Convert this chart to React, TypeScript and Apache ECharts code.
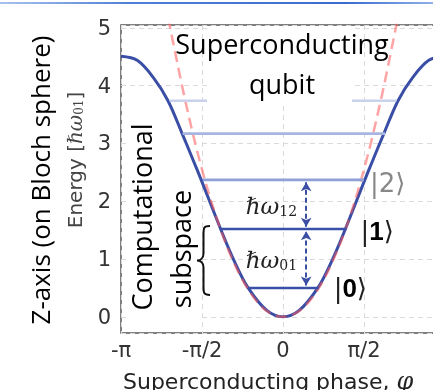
import React, { useEffect, useRef } from 'react';
import * as echarts from 'echarts';

// x positions are in units of π/2
const xTickValues = [-2, -1, 0, 1];
const xTickLabels = ['-π', '-π/2', '0', 'π/2'];
const yTickLabels = ['0', '1', '2', '3', '4', '5'];

// Josephson potential (blue solid)
const potPhase = [-2, -1.8, -1.6, -1.42, -1.245, -1.1, -1.01, -0.77, -0.6, -0.43, -0.2, 0, 0.2, 0.43, 0.6, 0.77, 1.01, 1.1, 1.245, 1.42, 1.6, 1.8, 2];
const potEnergy = [4.51, 4.44, 4.14, 3.74, 3.17, 2.68, 2.37, 1.52, 0.96, 0.5, 0.11, 0, 0.11, 0.5, 0.96, 1.52, 2.37, 2.68, 3.17, 3.74, 4.14, 4.44, 4.51];

// harmonic approximation (red dashed)
const harmPhase = [-1.5, -1.4, -1.2, -1.0, -0.8, -0.6, -0.4, -0.2, 0, 0.2, 0.4, 0.6, 0.8, 1.0, 1.2, 1.4, 1.5];
const harmEnergy = [5.75, 5.05, 3.7, 2.55, 1.63, 0.92, 0.41, 0.1, 0, 0.1, 0.41, 0.92, 1.63, 2.55, 3.7, 5.05, 5.75];

// energy levels
const levelEnergy = [0.5, 1.52, 2.37, 3.17, 3.74];
const levelLeft = [-0.42, -0.76, -0.99, -1.24, -1.4];
const levelRight = [0.44, 0.785, 1.0, 1.26, 1.4];
const levelColor = ['#3a50a8', '#3a50a8', '#8f9fd7', '#a9b5e1', '#c9d1ec'];

// transition arrows
const arrowPhase = 0.286;
const arrowFrom = [0.54, 1.56];
const arrowTo = [1.48, 2.33];

const BLUE = '#3a4ea6';

export default function App() {
  const ref = useRef<HTMLDivElement>(null);
  useEffect(() => {
    const chart = echarts.init(ref.current!, undefined, { renderer: 'svg' });
    const series: any[] = [];
    series.push({
      type: 'line',
      data: potPhase.map((p, i) => [p, potEnergy[i]]),
      smooth: 0.35,
      symbol: 'none',
      lineStyle: { color: BLUE, width: 3 },
      z: 3,
    });
    series.push({
      type: 'line',
      data: harmPhase.map((p, i) => [p, harmEnergy[i]]),
      smooth: 0.35,
      symbol: 'none',
      lineStyle: { color: 'rgba(255,90,90,0.55)', width: 2.5, type: [11, 6] },
      z: 4,
    });
    levelEnergy.forEach((e, i) => {
      series.push({
        type: 'line',
        data: [[levelLeft[i], e], [levelRight[i], e]],
        symbol: 'none',
        lineStyle: { color: levelColor[i], width: 2.6 },
        z: 5,
      });
    });
    series.push({
      type: 'line',
      data: [[arrowPhase, arrowFrom[0]]],
      symbol: 'none',
      lineStyle: { width: 0, opacity: 0 },
      z: 6,
      markLine: {
        silent: true,
        symbol: ['arrow', 'arrow'],
        symbolSize: [8, 9],
        label: { show: false },
        lineStyle: { color: BLUE, width: 2, type: [5, 3] },
        data: arrowFrom.map((f, i) => [
          { coord: [arrowPhase, f] },
          { coord: [arrowPhase, arrowTo[i]] },
        ]),
      },
    });

    const gridLine = { show: true, lineStyle: { color: '#dadada', type: [5, 4], width: 1 } };
    chart.setOption({
      animation: false,
      textStyle: { fontFamily: 'DejaVu Sans' },
      grid: { left: 121, top: 25, right: 0, bottom: 57, show: true, borderColor: '#555', borderWidth: 1.5, backgroundColor: 'transparent' },
      xAxis: {
        type: 'value', min: -2, max: 2, interval: 1,
        axisLine: { show: false }, axisTick: { show: false },
        splitLine: gridLine,
        axisLabel: {
          fontSize: 21, color: '#333', margin: 6, fontFamily: 'DejaVu Sans',
          formatter: (v: number) => {
            const k = xTickValues.indexOf(v);
            return k >= 0 ? xTickLabels[k] : '';
          },
        },
      },
      yAxis: {
        type: 'value', min: -0.28, max: 5.05, splitNumber: 5,
        axisLine: { show: false }, axisTick: { show: false },
        splitLine: gridLine,
        axisLabel: {
          fontSize: 21, color: '#333', margin: 10, fontFamily: 'DejaVu Sans',
          formatter: (v: number) => {
            const r = Math.round(v);
            return Math.abs(v - r) < 1e-6 && r >= 0 && r < yTickLabels.length ? yTickLabels[r] : '';
          },
        },
      },
      series,
    });

    const px = (u: number, e: number) => chart.convertToPixel({ gridIndex: 0 } as any, [u, e]) as number[];
    const p0 = px(0, levelEnergy[0]);
    const p1 = px(0, levelEnergy[1]);
    const yTop = p1[1] - 3;
    const yBot = p0[1] + 7;
    const ym = (yTop + yBot) / 2;
    const xr = 210, xs = 203.5, xt = 197;
    const d = `M ${xr} ${yTop} C ${xs} ${yTop} ${xs} ${yTop + 2} ${xs} ${yTop + 9} L ${xs} ${ym - 7} C ${xs} ${ym - 2} ${xt + 3} ${ym} ${xt} ${ym} C ${xt + 3} ${ym} ${xs} ${ym + 2} ${xs} ${ym + 7} L ${xs} ${yBot - 9} C ${xs} ${yBot - 2} ${xs} ${yBot} ${xr} ${yBot}`;
    echarts.graphic.registerShape('brace', (echarts.graphic as any).extendPath(d, {}));

    const arrowPx = px(arrowPhase, (arrowFrom[1] + arrowTo[1]) / 2);
    const arrowPx2 = px(arrowPhase, (arrowFrom[0] + arrowTo[0]) / 2);
    const stateLabel = (i: number) => px(levelRight[i], levelEnergy[i]);
    const s0 = stateLabel(0), s1 = stateLabel(1), s2 = stateLabel(2);

    const calib = 'Open Sans';
    const graphic: any[] = [
      {
        type: 'rect', z: 30, shape: { x: 0, y: 2, width: 433, height: 2 },
        style: {
          fill: new echarts.graphic.LinearGradient(0, 0, 1, 0, [
            { offset: 0, color: '#a8c2ee' }, { offset: 0.3, color: '#4f7fd6' },
            { offset: 0.8, color: '#3a6cd0' }, { offset: 1, color: '#8fb0e8' },
          ]),
        },
      },
      { type: 'rect', z: 1, shape: { x: 127, y: 108, width: 72, height: 217 }, style: { fill: '#fff' } },
      { type: 'rect', z: 10, shape: { x: 207, y: 27, width: 145, height: 75 }, style: { fill: '#fff' } },
      { type: 'text', z: 20, x: 282, y: 43, style: { text: 'Superconducting', fontFamily: calib, fontSize: 27, fill: '#000', align: 'center', verticalAlign: 'middle' } },
      { type: 'text', z: 20, x: 282, y: 83, style: { text: 'qubit', fontFamily: calib, fontSize: 27, fill: '#000', align: 'center', verticalAlign: 'middle' } },
      { type: 'text', z: 20, x: 141, y: 217, rotation: Math.PI / 2, style: { text: 'Computational', fontFamily: calib, fontSize: 27, fill: '#000', align: 'center', verticalAlign: 'middle' } },
      { type: 'text', z: 20, x: 180, y: 249, rotation: Math.PI / 2, style: { text: 'subspace', fontFamily: calib, fontSize: 27, fill: '#000', align: 'center', verticalAlign: 'middle' } },
      { type: 'brace', z: 20, style: { stroke: '#111', fill: null, lineWidth: 2 } },
      { type: 'text', z: 20, x: 40, y: 180, rotation: Math.PI / 2, style: { text: 'Z-axis (on Bloch sphere)', fontFamily: calib, fontSize: 26, fill: '#000', align: 'center', verticalAlign: 'middle' } },
      {
        type: 'text', z: 20, x: 75, y: 160, rotation: Math.PI / 2,
        style: {
          text: 'Energy [{w|ℏω}{s|01}]', fontFamily: 'DejaVu Sans', fontSize: 20, fill: '#444', align: 'center', verticalAlign: 'middle',
          rich: {
            w: { fontFamily: 'DejaVu Serif', fontStyle: 'italic', fontSize: 20, fill: '#444' },
            s: { fontFamily: 'DejaVu Serif', fontSize: 12, fill: '#444', verticalAlign: 'bottom', lineHeight: 12 },
          },
        },
      },
      {
        type: 'text', z: 20, x: 123, y: 381,
        style: {
          text: 'Superconducting phase, {i|φ}', fontFamily: 'DejaVu Sans', fontSize: 22, fill: '#222', align: 'left', verticalAlign: 'middle',
          rich: { i: { fontFamily: 'DejaVu Serif', fontStyle: 'italic', fontSize: 24, fill: '#222' } },
        },
      },
      {
        type: 'text', z: 20, x: arrowPx[0] - 9, y: arrowPx[1] + 2,
        style: {
          text: 'ℏω{s|12}', fontFamily: 'DejaVu Serif', fontStyle: 'italic', fontSize: 23, fill: '#222', align: 'right', verticalAlign: 'middle',
          rich: { s: { fontFamily: 'DejaVu Serif', fontStyle: 'normal', fontSize: 14, fill: '#222', verticalAlign: 'bottom', lineHeight: 14 } },
        },
      },
      {
        type: 'text', z: 20, x: arrowPx2[0] - 9, y: arrowPx2[1] + 2,
        style: {
          text: 'ℏω{s|01}', fontFamily: 'DejaVu Serif', fontStyle: 'italic', fontSize: 23, fill: '#222', align: 'right', verticalAlign: 'middle',
          rich: { s: { fontFamily: 'DejaVu Serif', fontStyle: 'normal', fontSize: 14, fill: '#222', verticalAlign: 'bottom', lineHeight: 14 } },
        },
      },
      {
        type: 'text', z: 20, x: s0[0] + 15, y: s0[1],
        style: { text: '|{b|0}⟩', fontFamily: 'DejaVu Sans', fontSize: 26, fill: '#222', align: 'left', verticalAlign: 'middle', rich: { b: { fontWeight: 'bold', fontSize: 26, fill: '#000' } } },
      },
      {
        type: 'text', z: 20, x: s1[0] + 14, y: s1[1] + 2,
        style: { text: '|{b|1}⟩', fontFamily: 'DejaVu Sans', fontSize: 26, fill: '#222', align: 'left', verticalAlign: 'middle', rich: { b: { fontWeight: 'bold', fontSize: 26, fill: '#000' } } },
      },
      {
        type: 'text', z: 20, x: s2[0] + 6, y: s2[1] + 3,
        style: { text: '|2⟩', fontFamily: 'DejaVu Sans', fontSize: 26, fill: '#888', align: 'left', verticalAlign: 'middle' },
      },
    ];
    chart.setOption({ graphic });
    return () => chart.dispose();
  }, []);
  return <div ref={ref} style={{ position: 'fixed', left: 0, top: 0, width: 448, height: 390 }} />;
}
